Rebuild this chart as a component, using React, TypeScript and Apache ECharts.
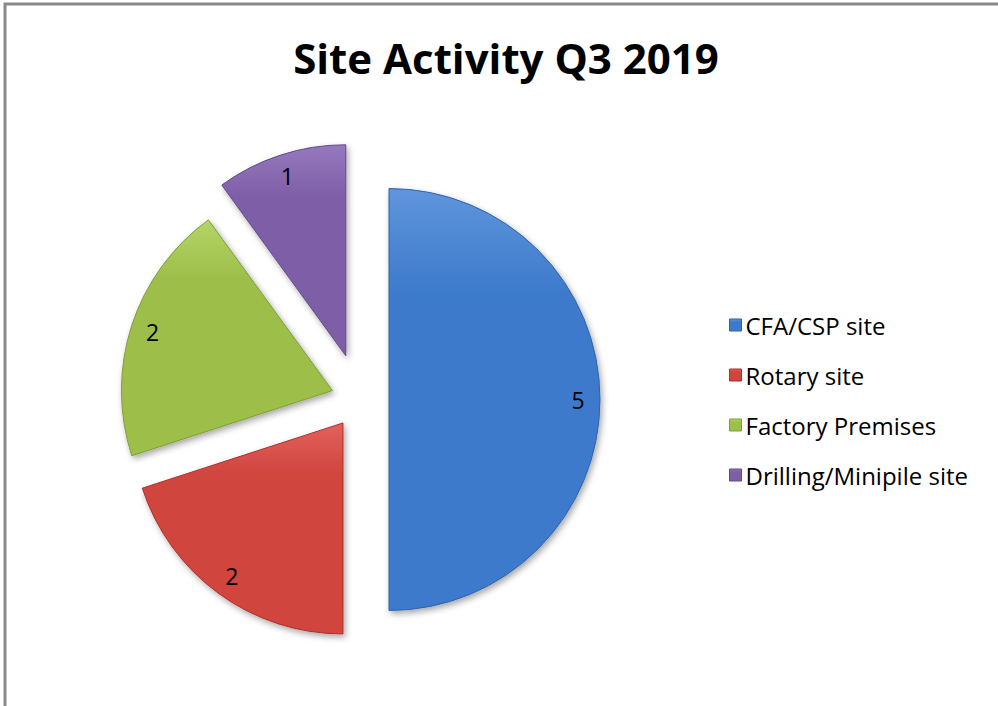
import React, { useEffect, useRef } from "react";
import * as echarts from "echarts";

const categories = ["CFA/CSP site", "Rotary site", "Factory Premises", "Drilling/Minipile site"];
const values = [5, 2, 2, 1];
const titleText = "Site Activity Q3 2019";

// styling (not data)
const sliceColors = [
  ["#5f95dc", "#3d7acb", "#2f63ab"],
  ["#e2625c", "#d0443e", "#ac302b"],
  ["#b4d466", "#9dbf4a", "#7f9f36"],
  ["#9578bd", "#7e5fa7", "#654889"],
];
const explodeOffsets = [29, 29, 29, 46];
const FONT = "'Open Sans', 'Noto Sans', sans-serif";

function grad(c: string[]) {
  return new echarts.graphic.LinearGradient(0, 0, 0, 1, [
    { offset: 0, color: c[0] },
    { offset: 0.25, color: c[1] },
    { offset: 1, color: c[1] },
  ]);
}

function buildSeries() {
  const groups = Array.from(new Set(explodeOffsets));
  const series: any[] = [];
  groups.forEach((off) => {
    const fillData = categories.map((name, i) => {
      const on = explodeOffsets[i] === off;
      return {
        name,
        value: values[i],
        selected: true,
        itemStyle: on
          ? {
              color: grad(sliceColors[i]),
              borderColor: sliceColors[i][2],
              borderWidth: 1,
              shadowBlur: 6,
              shadowColor: "rgba(0,0,0,0.35)",
              shadowOffsetX: 2,
              shadowOffsetY: 3,
            }
          : { color: "rgba(0,0,0,0)", borderWidth: 0, shadowBlur: 0, shadowColor: "rgba(0,0,0,0)" },
      };
    });
    series.push({
      type: "pie",
      center: [360, 399.5],
      radius: [0, 211],
      startAngle: 90,
      clockwise: true,
      selectedMode: "multiple",
      selectedOffset: off,
      silent: true,
      label: { show: false },
      labelLine: { show: false },
      emphasis: { disabled: true },
      data: fillData,
    });
    const labelData = categories.map((name, i) => {
      const on = explodeOffsets[i] === off;
      return {
        name,
        value: values[i],
        selected: true,
        itemStyle: { color: "rgba(0,0,0,0)", borderWidth: 0 },
        label: { show: on },
      };
    });
    series.push({
      type: "pie",
      center: [360, 399.5],
      radius: [161, 211],
      startAngle: 90,
      clockwise: true,
      selectedMode: "multiple",
      selectedOffset: off,
      silent: true,
      label: {
        show: true,
        position: "inside",
        formatter: "{c}",
        color: "#000",
        fontSize: 23,
        fontFamily: FONT,
      },
      labelLine: { show: false },
      emphasis: { disabled: true },
      data: labelData,
    });
  });
  return series;
}

export default function App() {
  const ref = useRef<HTMLDivElement>(null);
  useEffect(() => {
    if (!ref.current) return;
    const chart = echarts.init(ref.current, undefined, { renderer: "svg" });
    chart.setOption({
      animation: false,
      backgroundColor: "#fff",
      color: sliceColors.map((c) => c[1]),
      title: {
        text: titleText,
        left: 506,
        textAlign: "center",
        top: 34,
        padding: 0,
        textStyle: { fontSize: 42, lineHeight: 46, fontWeight: "bold", color: "#000", fontFamily: FONT },
      },
      legend: {
        orient: "vertical",
        left: 729,
        top: 313,
        padding: 0,
        itemWidth: 12,
        itemHeight: 12,
        itemGap: 26,
        icon: "rect",
        selectedMode: false,
        data: categories.map((name, i) => ({
          name,
          itemStyle: { color: grad(sliceColors[i]), borderColor: sliceColors[i][2], borderWidth: 1 },
        })),
        textStyle: { fontSize: 24, lineHeight: 24, color: "#000", fontFamily: FONT, padding: [0, 0, 0, -1] },
      },
      graphic: [
        {
          type: "rect",
          shape: { x: 5, y: 4, width: 1010, height: 720 },
          style: { fill: "none", stroke: "#8a8a8a", lineWidth: 3 },
          silent: true,
        },
      ],
      series: buildSeries(),
    });
    return () => chart.dispose();
  }, []);
  return (
    <div
      ref={ref}
      style={{ position: "fixed", left: 0, top: 0, width: 998, height: 706 }}
    />
  );
}
